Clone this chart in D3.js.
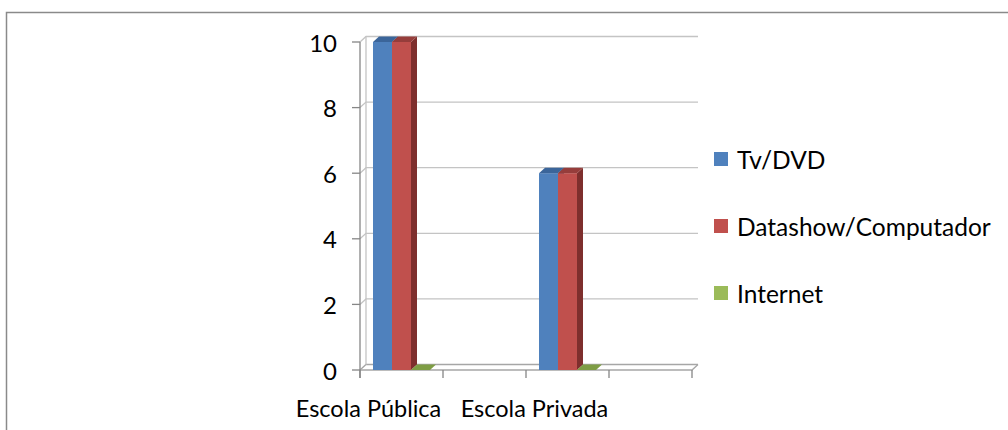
<!DOCTYPE html>
<html>
<head>
<meta charset="utf-8">
<script src="https://cdn.jsdelivr.net/npm/d3@7"></script>
<style>
  html, body { margin: 0; padding: 0; background: #fff; }
  svg text { font-family: Lato, "Open Sans", sans-serif; fill: #000; }
</style>
</head>
<body>
<svg id="chart" width="1008" height="430"></svg>
<script>
// Category slots along the x axis (blank slots have no bars)
const categories = ["Escola Pública", "", "Escola Privada", ""];
const seriesNames = ["Tv/DVD", "Datashow/Computador", "Internet"];
const tvDvd = [10, null, 6, null];
const datashow = [10, null, 6, null];
const internet = [0, null, 0, null];
const yTicks = [0, 2, 4, 6, 8, 10];

const seriesValues = [tvDvd, datashow, internet];
const front = ["#4F81BD", "#C0504D", "#9BBB59"];
const topCol = ["#3B659A", "#963D3B", "#7E9D44"];
const sideCol = ["#33598A", "#7E2F2D", "#6B8A38"];

const svg = d3.select("#chart");

// outer frame
svg.append("rect")
  .attr("x", 6.5).attr("y", 12.5)
  .attr("width", 1010).attr("height", 430)
  .attr("fill", "none").attr("stroke", "#8a8a8a").attr("stroke-width", 1.5);

const x0 = 360, x1 = 692;
const dx = 6, dy = -5.5;   // depth offset for the 3D look

const x = d3.scaleBand().domain(d3.range(categories.length)).range([x0, x1]);
const y = d3.scaleLinear().domain([0, 10]).range([370, 42]);
const xs = d3.scaleBand().domain(d3.range(seriesNames.length))
  .range([0, x.bandwidth()]).paddingOuter(0.684).paddingInner(0);

const grid = svg.append("g");
yTicks.forEach(t => {
  const yy = y(t);
  // gridline on back wall, with the slanted connector
  grid.append("path")
    .attr("d", `M${x0},${yy}L${x0 + dx},${yy + dy}L${x1 + dx},${yy + dy}`)
    .attr("fill", "none").attr("stroke", t === 0 ? "#a6a6a6" : "#c4c4c4").attr("stroke-width", 1.3);
  // tick mark on the front axis
  grid.append("line")
    .attr("x1", x0 - 8).attr("x2", x0).attr("y1", yy).attr("y2", yy)
    .attr("stroke", "#868686").attr("stroke-width", 1.3);
});
// back wall left edge
grid.append("line")
  .attr("x1", x0 + dx).attr("x2", x0 + dx)
  .attr("y1", y(0) + dy).attr("y2", y(10) + dy)
  .attr("stroke", "#c4c4c4").attr("stroke-width", 1.3);
// floor front edge and right edge
grid.append("path")
  .attr("d", `M${x0},${y(0)}L${x1},${y(0)}L${x1 + dx},${y(0) + dy}`)
  .attr("fill", "none").attr("stroke", "#a6a6a6").attr("stroke-width", 1.3);
// front value axis
grid.append("line")
  .attr("x1", x0).attr("x2", x0).attr("y1", y(10)).attr("y2", y(0) + 8)
  .attr("stroke", "#868686").attr("stroke-width", 1.3);
// category ticks
d3.range(categories.length + 1).forEach(i => {
  const xx = i < categories.length ? x(i) : x1;
  grid.append("line")
    .attr("x1", xx).attr("x2", xx).attr("y1", y(0)).attr("y2", y(0) + 8)
    .attr("stroke", "#868686").attr("stroke-width", 1.3);
});

// y labels
svg.append("g").selectAll("text").data(yTicks).join("text")
  .attr("x", 337).attr("y", d => y(d))
  .attr("text-anchor", "end").attr("dominant-baseline", "central")
  .attr("font-size", 24).text(d => d);

// x labels
svg.append("g").selectAll("text").data(categories).join("text")
  .attr("x", (d, i) => x(i) + x.bandwidth() / 2 - 33)
  .attr("y", 408)
  .attr("text-anchor", "middle").attr("dominant-baseline", "central")
  .attr("font-size", 23.5).text(d => d);

// bars
const bars = svg.append("g");
categories.forEach((c, ci) => {
  seriesValues.forEach((vals, si) => {
    const v = vals[ci];
    if (v === null || v === undefined) return;
    const bx = x(ci) + xs(si), bw = xs.bandwidth();
    const yt = y(v), yb = y(0);
    if (v > 0) {
      bars.append("path")
        .attr("d", `M${bx + bw},${yt}L${bx + bw + dx},${yt + dy}L${bx + bw + dx},${yb + dy}L${bx + bw},${yb}Z`)
        .attr("fill", sideCol[si]);
      bars.append("rect")
        .attr("x", bx).attr("y", yt).attr("width", bw).attr("height", yb - yt)
        .attr("fill", front[si]);
    }
    bars.append("path")
      .attr("d", `M${bx},${yt}L${bx + dx},${yt + dy}L${bx + bw + dx},${yt + dy}L${bx + bw},${yt}Z`)
      .attr("fill", topCol[si]);
  });
});

// legend
const lg = svg.append("g");
seriesNames.forEach((n, i) => {
  const cy = 159 + i * 67;
  lg.append("rect").attr("x", 714).attr("y", cy - 7).attr("width", 14).attr("height", 14)
    .attr("fill", front[i]);
  lg.append("text").attr("x", 737).attr("y", cy)
    .attr("dominant-baseline", "central").attr("font-size", 24.5).text(n);
});
</script>
</body>
</html>
